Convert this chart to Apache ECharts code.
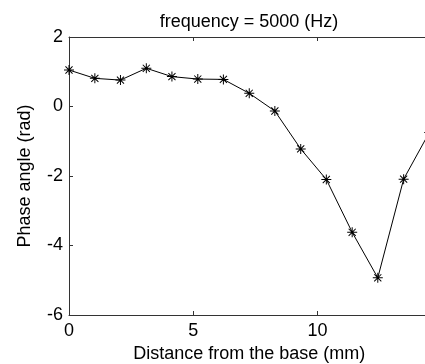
<!DOCTYPE html>
<html>
<head>
<meta charset="utf-8">
<script src="https://cdn.jsdelivr.net/npm/echarts@6/dist/echarts.min.js"></script>
<style>
html,body{margin:0;padding:0;background:#fff;}
#chart{width:425px;height:364px;}
</style>
</head>
<body>
<div id="chart"></div>
<script>
// Data
var titleText = 'frequency = 5000 (Hz)';
var xName = 'Distance from the base (mm)';
var yName = 'Phase angle (rad)';
var distance = [0, 1.04, 2.07, 3.11, 4.14, 5.18, 6.21, 7.25, 8.28, 9.32, 10.35, 11.39, 12.42, 13.46, 14.49];
var phase = [1.05, 0.81, 0.76, 1.10, 0.86, 0.79, 0.78, 0.38, -0.13, -1.22, -2.10, -3.62, -4.93, -2.09, -0.75];
var xTicks = [0, 5, 10];
var yTicks = [-6, -4, -2, 0, 2];

var points = distance.map(function (d, i) { return [d, phase[i]]; });

var star = 'path://M0,9H20V11H0Z M9,0H11V20H9Z M3.6,2.2L17.8,16.4L16.4,17.8L2.2,3.6Z M16.4,2.2L17.8,3.6L3.6,17.8L2.2,16.4Z';
var font = 'Liberation Sans, Arial, sans-serif';
var axisColor = '#333';
var fs = 18;

var chart = echarts.init(document.getElementById('chart'), null, {renderer: 'canvas'});
chart.setOption({
  animation: false,
  backgroundColor: '#fff',
  title: {
    text: titleText,
    left: 244,
    textAlign: 'center',
    top: 8,
    textStyle: {fontFamily: font, fontSize: fs, fontWeight: 'normal', color: '#000'}
  },
  grid: {left: 69, right: -4.5, top: 37, bottom: 49, containLabel: false, outerBoundsMode: 'none'},
  xAxis: [{
    type: 'value',
    min: xTicks[0], max: 14.5, interval: xTicks[1] - xTicks[0],
    name: xName, nameLocation: 'middle', nameGap: 29,
    nameTextStyle: {fontFamily: font, fontSize: fs, color: '#000'},
    axisLine: {show: true, onZero: false, lineStyle: {color: axisColor, width: 1}},
    axisTick: {show: true, inside: true, length: 4, lineStyle: {color: axisColor}},
    axisLabel: {fontFamily: font, fontSize: fs, color: '#000', margin: 7, showMaxLabel: false,
      formatter: function (v) { return xTicks.indexOf(v) >= 0 ? String(v) : ''; }},
    splitLine: {show: false}
  }, {
    type: 'value', position: 'top',
    min: xTicks[0], max: 14.5, interval: xTicks[1] - xTicks[0],
    axisLine: {show: true, onZero: false, lineStyle: {color: axisColor, width: 1}},
    axisTick: {show: true, inside: true, length: 4, lineStyle: {color: axisColor}},
    axisLabel: {show: false},
    splitLine: {show: false}
  }],
  yAxis: [{
    type: 'value',
    min: yTicks[0], max: yTicks[yTicks.length - 1], interval: 2,
    name: yName, nameLocation: 'middle', nameGap: 35,
    nameTextStyle: {fontFamily: font, fontSize: fs, color: '#000'},
    axisLine: {show: true, onZero: false, lineStyle: {color: axisColor, width: 1}},
    axisTick: {show: true, inside: true, length: 4, lineStyle: {color: axisColor}},
    axisLabel: {fontFamily: font, fontSize: fs, color: '#000', margin: 6},
    splitLine: {show: false}
  }],
  series: [{
    type: 'line',
    data: points,
    xAxisIndex: 0,
    yAxisIndex: 0,
    symbol: star,
    symbolSize: 10,
    showAllSymbol: true,
    clip: false,
    lineStyle: {color: '#000', width: 1},
    itemStyle: {color: '#000'}
  }]
});
</script>
</body>
</html>
